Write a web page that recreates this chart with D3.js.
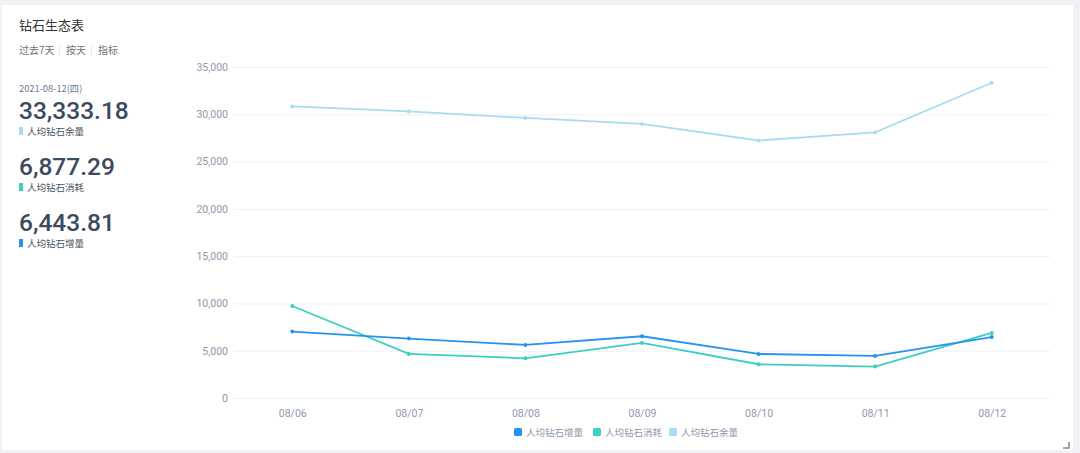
<!DOCTYPE html>
<html><head><meta charset="utf-8">
<script src="https://cdn.jsdelivr.net/npm/d3@7"></script>
<style>
html,body{margin:0;padding:0;background:#f0f2f5;}
svg{display:block;font-family:Roboto,"Noto Sans CJK SC",sans-serif;}
</style></head><body>
<svg id="c" width="1080" height="453"></svg>
<script>
const categories = ["08/06","08/07","08/08","08/09","08/10","08/11","08/12"];
const seriesNames = ["人均钻石增量","人均钻石消耗","人均钻石余量"];
const increase = [7020, 6280, 5610, 6530, 4660, 4450, 6443.81];
const consume = [9730, 4660, 4200, 5820, 3570, 3320, 6877.29];
const balance = [30830, 30300, 29610, 28980, 27230, 28080, 33333.18];
const yTicks = [0,5000,10000,15000,20000,25000,30000,35000];
const colors = ["#2693f0","#3ccfc4","#a9dcf3"];
const tabs = ["过去7天","按天","指标"];
const summaryLabels = ["人均钻石余量","人均钻石消耗","人均钻石增量"];
const summaryValues = [33333.18, 6877.29, 6443.81];
const summaryColors = [colors[2], colors[1], colors[0]];

const svg = d3.select("#c");
svg.append("rect").attr("x",2).attr("y",5).attr("width",1071).attr("height",445).attr("fill","#fff");
// resize corner
svg.append("path").attr("d","M1063,448 L1069,448 L1069,442").attr("fill","none").attr("stroke","#888").attr("stroke-width",1.5);

svg.append("text").attr("x",19).attr("y",30).attr("font-size",13).attr("fill","#333")
  .attr("font-family","'Noto Sans CJK SC',sans-serif").text("钻石生态表");
const tabX = [19, 66, 98];
const sepX = [59.5, 91.5];
tabs.forEach((t,i)=>{
  svg.append("text").attr("x",tabX[i]).attr("y",54).attr("font-size",10).attr("fill","#6b7280")
    .attr("font-family","'Noto Sans CJK SC',sans-serif").text(t);
});
sepX.forEach(sx=>{
  svg.append("line").attr("x1",sx).attr("x2",sx).attr("y1",45).attr("y2",55).attr("stroke","#e3e6eb");
});
svg.append("text").attr("x",19).attr("y",92).attr("font-size",9.3).attr("fill","#6b7a90")
  .attr("font-family","'Noto Sans CJK SC',sans-serif").text("2021-08-12(四)");
const fmt2 = d3.format(",.2f");
summaryValues.forEach((v,i)=>{
  const y0 = 119 + i*56;
  svg.append("text").attr("x",19).attr("y",y0).attr("font-size",24.5).attr("font-weight",500)
    .attr("fill","#3b4a5e").text(fmt2(v));
  svg.append("rect").attr("x",19).attr("y",y0+8).attr("width",4).attr("height",8).attr("fill",summaryColors[i]);
  svg.append("text").attr("x",27).attr("y",y0+16).attr("font-size",9.5).attr("fill","#4b5563")
    .attr("font-family","'Noto Sans CJK SC',sans-serif").text(summaryLabels[i]);
});

const x0 = 234, x1 = 1050, yTop = 67, yBot = 398;
const x = d3.scalePoint().domain(categories).range([x0,x1]).padding(0.5);
const y = d3.scaleLinear().domain([0,35000]).range([yBot,yTop]);

const yAxis = svg.append("g").attr("transform",`translate(${x0},0)`)
  .call(d3.axisLeft(y).tickValues(yTicks).tickSize(-(x1-x0)).tickPadding(6).tickFormat(d3.format(",")));
yAxis.select(".domain").remove();
yAxis.selectAll(".tick line").attr("stroke","#edf1f8");
yAxis.selectAll(".tick text").attr("fill","#8e99ad").attr("font-size",10.5).attr("font-family","Roboto,sans-serif");

const xAxis = svg.append("g").attr("transform",`translate(0,${yBot})`)
  .call(d3.axisBottom(x).tickSize(0).tickPadding(12));
xAxis.select(".domain").remove();
xAxis.selectAll(".tick text").attr("fill","#8e99ad").attr("font-size",10.5).attr("font-family","Roboto,sans-serif");

const seriesData = [increase, consume, balance];
const line = d3.line().x((d,i)=>x(categories[i])).y(d=>y(d));
[2,1,0].forEach(k=>{
  svg.append("path").datum(seriesData[k]).attr("d",line).attr("fill","none")
    .attr("stroke",colors[k]).attr("stroke-width",1.8);
  svg.selectAll(null).data(seriesData[k]).enter().append("circle")
    .attr("cx",(d,i)=>x(categories[i])).attr("cy",d=>y(d)).attr("r",2).attr("fill",colors[k]);
});

// legend
const legX = [514, 593, 669];
seriesNames.forEach((n,i)=>{
  svg.append("rect").attr("x",legX[i]).attr("y",428).attr("width",8).attr("height",8).attr("rx",1.5).attr("fill",colors[i]);
  svg.append("text").attr("x",legX[i]+12).attr("y",436).attr("font-size",9.5).attr("fill","#8e99ad")
    .attr("font-family","'Noto Sans CJK SC',sans-serif").text(n);
});
</script></body></html>
